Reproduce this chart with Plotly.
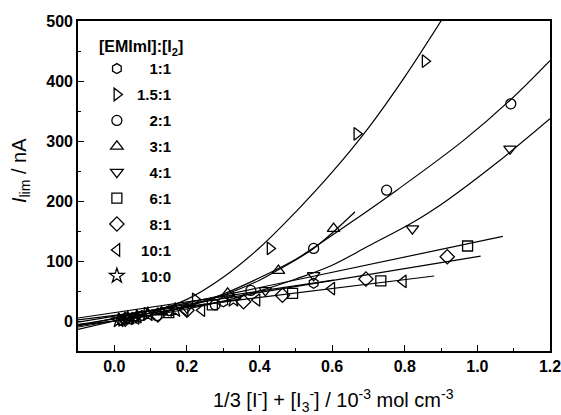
import plotly.graph_objects as go

# ---------------- data ----------------
ratios = ["1:1", "1.5:1", "2:1", "3:1", "4:1", "6:1", "8:1", "10:1", "10:0"]

# measured points
x_1_1 = [0.03, 0.076, 0.15, 0.30, 0.549]
y_1_1 = [3, 9, 17, 32, 63]
x_15_1 = [0.02, 0.09, 0.223, 0.429, 0.668, 0.856]
y_15_1 = [2, 12, 36, 121, 312, 433]
x_2_1 = [0.02, 0.117, 0.278, 0.376, 0.549, 0.75, 1.092]
y_2_1 = [2, 9, 27, 51, 121, 218, 362]
x_3_1 = [0.05, 0.13, 0.312, 0.452, 0.604]
y_3_1 = [5, 15, 46, 84, 154]
x_4_1 = [0.06, 0.2, 0.416, 0.549, 0.821, 1.09]
y_4_1 = [6, 22, 51, 76, 154, 287]
x_6_1 = [0.04, 0.15, 0.27, 0.491, 0.734, 0.973]
y_6_1 = [4, 14, 27, 46, 67, 125]
x_8_1 = [0.03, 0.12, 0.2, 0.356, 0.463, 0.693, 0.917]
y_8_1 = [3, 10, 18, 32, 43, 70, 107]
x_10_1 = [0.06, 0.195, 0.241, 0.393, 0.599, 0.796]
y_10_1 = [5, 18, 18, 35, 54, 66]
x_10_0 = [0.012, 0.037, 0.062, 0.092, 0.168, 0.328]
y_10_0 = [1, 4, 7, 11, 18, 35]

# fitted curves
fx_1_1 = [-0.1, 0.604]
fy_1_1 = [5, 68]
fx_15_1 = [-0.1, 0.0, 0.1, 0.2, 0.3, 0.4, 0.5, 0.6, 0.7, 0.8, 0.905]
fy_15_1 = [-14, 0, 14, 36, 73, 122, 182, 248, 322, 407, 505]
fx_2_1 = [-0.1, 0.0, 0.1, 0.2, 0.3, 0.4, 0.5, 0.549, 0.663, 0.778, 0.962, 1.09, 1.2]
fy_2_1 = [-10, 0, 10, 25, 45, 72, 103, 122, 169, 218, 301, 368, 434]
fx_3_1 = [-0.1, 0.0, 0.1, 0.2, 0.3, 0.4, 0.448, 0.549, 0.663]
fy_3_1 = [-6, 0, 10, 24, 43, 68, 84, 121, 182]
fx_4_1 = [-0.1, 0.0, 0.1, 0.2, 0.3, 0.4, 0.5, 0.6, 0.7, 0.824, 0.916, 1.05, 1.2]
fy_4_1 = [-7, 0, 9, 20, 33, 50, 70, 93, 125, 165, 201, 262, 337]
fx_6_1 = [-0.1, 1.07]
fy_6_1 = [-8, 141]
fx_8_1 = [-0.1, 1.009]
fy_8_1 = [-2, 108]
fx_10_1 = [-0.1, 0.881]
fy_10_1 = [2, 75]
fx_10_0 = [-0.1, 0.35]
fy_10_0 = [-6, 37]

x_ticks = [0.0, 0.2, 0.4, 0.6, 0.8, 1.0, 1.2]
y_ticks = [0, 100, 200, 300, 400, 500]

# ---------------- figure ----------------
points = [(x_1_1, y_1_1), (x_15_1, y_15_1), (x_2_1, y_2_1), (x_3_1, y_3_1),
          (x_4_1, y_4_1), (x_6_1, y_6_1), (x_8_1, y_8_1), (x_10_1, y_10_1),
          (x_10_0, y_10_0)]
fits = [(fx_1_1, fy_1_1), (fx_15_1, fy_15_1), (fx_2_1, fy_2_1), (fx_3_1, fy_3_1),
        (fx_4_1, fy_4_1), (fx_6_1, fy_6_1), (fx_8_1, fy_8_1), (fx_10_1, fy_10_1),
        (fx_10_0, fy_10_0)]
symbols = ["hexagon-open", "triangle-right-open", "circle-open", "triangle-up-open",
           "triangle-down-open", "square-open", "diamond-open", "triangle-left-open",
           "star-open"]
sizes = [10, 11, 10, 11, 11, 10, 11, 11, 11]

# right-align legend labels (Arial metrics: digit = 2 x ':' = 2 x nbsp)
NB = "\u00a0"
def pad(label):
    w = sum(2 if ch.isdigit() else 1 for ch in label)
    return NB * (8 - w) + label

FONT = "Liberation Sans, Arial, sans-serif"

fig = go.Figure()
for i, r in enumerate(ratios):
    fx, fy = fits[i]
    fig.add_trace(go.Scatter(
        x=fx, y=fy, mode="lines",
        line=dict(color="black", width=1.2, shape="spline", smoothing=1.0),
        legendgroup=r, showlegend=False, hoverinfo="skip"))
for i, r in enumerate(ratios):
    px, py = points[i]
    fig.add_trace(go.Scatter(
        x=px, y=py, mode="markers", name=pad(r), legendgroup=r,
        marker=dict(symbol=symbols[i], size=sizes[i], color="black",
                    line=dict(color="black", width=1.3))))

fig.update_layout(
    width=561, height=415,
    margin=dict(l=78, r=11, t=21, b=64),
    paper_bgcolor="white", plot_bgcolor="white",
    font=dict(family=FONT, color="black"),
    showlegend=True,
    legend=dict(
        x=0.040, y=0.968, xanchor="left", yanchor="top",
        bgcolor="rgba(0,0,0,0)", borderwidth=0,
        title=dict(text="[EMImI]:[I<sub>2</sub>]", font=dict(family=FONT, size=16)),
        font=dict(family=FONT, size=15, weight="bold"),
        tracegroupgap=3.4, traceorder="grouped", itemsizing="trace",
    ),
    xaxis=dict(
        range=[-0.1, 1.2], tickvals=x_ticks, ticktext=[f"{v:.1f}" for v in x_ticks],
        ticks="inside", ticklen=6, tickwidth=1.3, tickcolor="black",
        minor=dict(ticks="inside", ticklen=3, tickwidth=1.1, dtick=0.1, tick0=0, tickcolor="black"),
        showline=True, linecolor="black", linewidth=1.6, mirror=True,
        showgrid=False, zeroline=False, automargin=False, ticklabeloverflow="allow",
        tickfont=dict(family=FONT, size=16, color="black", weight="bold"),
    ),
    yaxis=dict(
        range=[-50, 500], tickvals=y_ticks,
        ticks="inside", ticklen=6, tickwidth=1.3, tickcolor="black",
        minor=dict(ticks="inside", ticklen=3, tickwidth=1.1, dtick=50, tick0=0, tickcolor="black"),
        showline=True, linecolor="black", linewidth=1.6, mirror=True,
        showgrid=False, zeroline=False, automargin=False, ticklabeloverflow="allow",
        tickfont=dict(family=FONT, size=16, color="black", weight="bold"),
    ),
    annotations=[
        dict(text="1/3 [I<sup>-</sup>] + [I<sub>3</sub><sup>-</sup>] / 10<sup>-3</sup> mol cm<sup>-3</sup>",
             xref="paper", yref="paper", x=0.542, y=-0.15, xanchor="center", yanchor="middle",
             showarrow=False, font=dict(family=FONT, size=20)),
        dict(text="<i>I</i><sub>lim</sub> / nA", textangle=-90,
             xref="paper", yref="paper", x=-0.123, y=0.548, xanchor="center", yanchor="middle",
             showarrow=False, font=dict(family=FONT, size=20)),
    ],
)

fig.write_html("out.html", config={"displayModeBar": False},
               post_script="document.body.style.margin='0';")
